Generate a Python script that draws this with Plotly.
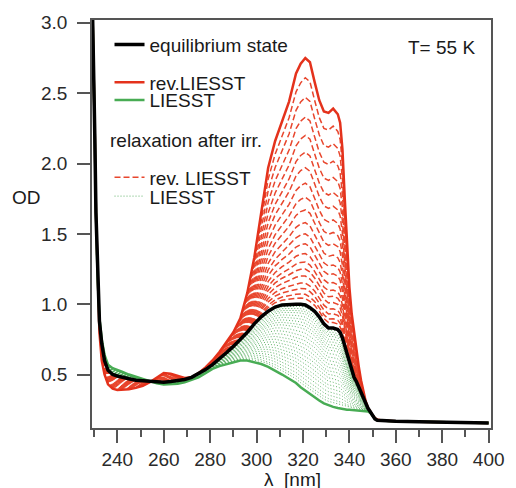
import numpy as np
import plotly.graph_objects as go

# ---------------- data ----------------
wavelength_nm = [
    229.3, 229.8, 230.3, 230.8, 231.5, 232.3, 233.3, 234.5, 236, 238,
    240, 242, 245, 248, 251, 254, 257, 260, 263, 266,
    269, 272, 275, 278, 281, 284, 287, 290, 293, 296,
    299, 302, 305, 308, 311, 314, 317, 319, 321, 323,
    325, 327, 329, 331, 333, 335, 336, 337, 338, 339,
    340, 341, 342, 343, 344, 345, 346, 347, 348, 349,
    350, 351, 352, 354, 357, 360, 370, 380, 390, 400]

od_equilibrium = [
    3.10, 2.75, 2.20, 1.65, 1.20, 0.88, 0.72, 0.60, 0.53, 0.50,
    0.49, 0.48, 0.47, 0.46, 0.455, 0.45, 0.445, 0.445, 0.45, 0.455,
    0.465, 0.48, 0.505, 0.535, 0.57, 0.61, 0.655, 0.70, 0.75, 0.80,
    0.86, 0.91, 0.95, 0.98, 0.995, 1.00, 1.00, 1.00, 0.995, 0.975,
    0.95, 0.91, 0.86, 0.83, 0.83, 0.82, 0.80, 0.76, 0.70, 0.64,
    0.58, 0.53, 0.48, 0.45, 0.41, 0.37, 0.33, 0.29, 0.26, 0.235,
    0.21, 0.185, 0.175, 0.172, 0.17, 0.168, 0.164, 0.16, 0.158, 0.155]

od_rev_liesst = [
    3.10, 2.75, 2.20, 1.65, 1.15, 0.80, 0.60, 0.50, 0.43, 0.40,
    0.39, 0.39, 0.395, 0.405, 0.42, 0.445, 0.48, 0.51, 0.505, 0.49,
    0.475, 0.48, 0.51, 0.55, 0.60, 0.66, 0.73, 0.80, 0.90, 1.08,
    1.33, 1.65, 1.97, 2.16, 2.30, 2.44, 2.64, 2.71, 2.75, 2.72,
    2.58, 2.45, 2.37, 2.36, 2.39, 2.35, 2.29, 2.10, 1.75, 1.40,
    1.12, 0.93, 0.80, 0.68, 0.56, 0.46, 0.38, 0.31, 0.265, 0.235,
    0.21, 0.19, 0.18, 0.174, 0.17, 0.168, 0.164, 0.16, 0.158, 0.155]

od_liesst = [
    3.10, 2.75, 2.20, 1.65, 1.20, 0.90, 0.75, 0.64, 0.57, 0.545,
    0.53, 0.52, 0.50, 0.485, 0.47, 0.452, 0.437, 0.43, 0.43, 0.435,
    0.445, 0.46, 0.48, 0.51, 0.54, 0.56, 0.575, 0.59, 0.60, 0.60,
    0.59, 0.575, 0.555, 0.53, 0.50, 0.47, 0.44, 0.41, 0.385, 0.36,
    0.335, 0.315, 0.295, 0.28, 0.27, 0.262, 0.258, 0.255, 0.252, 0.25,
    0.249, 0.248, 0.247, 0.246, 0.245, 0.244, 0.243, 0.242, 0.238, 0.228,
    0.205, 0.185, 0.176, 0.172, 0.17, 0.168, 0.164, 0.16, 0.158, 0.155]

# Relaxation spectra: each is a mixture of the two end spectra; the amplitude of
# each curve is read from the picture (peak OD at 321 nm / OD at 317 nm).
relax_rev_peak_od = [2.61, 2.47, 2.33, 2.20, 2.08, 1.97, 1.86, 1.76, 1.67, 1.58,
                     1.50, 1.43, 1.36, 1.30, 1.25, 1.20, 1.15, 1.11, 1.07, 1.04]
relax_liesst_od_317 = [0.47, 0.49, 0.515, 0.54, 0.565, 0.59, 0.615, 0.64, 0.665, 0.69,
                       0.715, 0.74, 0.765, 0.79, 0.815, 0.84, 0.86, 0.88, 0.90, 0.92,
                       0.94, 0.955, 0.97, 0.985]

x_ticks = [240, 260, 280, 300, 320, 340, 360, 380, 400]
y_ticks = [0.5, 1.0, 1.5, 2.0, 2.5, 3.0]

# ---------------- figure ----------------
wl = np.array(wavelength_nm)
eq = np.array(od_equilibrium)
rev = np.array(od_rev_liesst)
lie = np.array(od_liesst)
i321 = wavelength_nm.index(321)
i317 = wavelength_nm.index(317)

FONT = "Liberation Sans, Arial, Helvetica, sans-serif"
RED = "rgb(228,50,28)"
RED_D = "rgb(232,70,45)"
GREEN = "rgb(72,172,84)"
GREEN_D = "rgba(70,165,80,0.85)"

fig = go.Figure()

for k, h in enumerate(relax_rev_peak_od):
    f = (h - eq[i321]) / (rev[i321] - eq[i321])
    fig.add_trace(go.Scatter(
        x=wl, y=eq + f * (rev - eq), mode="lines",
        line=dict(color=RED_D, width=1.5, dash="6px,3px"),
        name="rev. LIESST", showlegend=(k == 0), legend="legend4",
        hoverinfo="skip"))

for k, h in enumerate(relax_liesst_od_317):
    f = (h - lie[i317]) / (eq[i317] - lie[i317])
    fig.add_trace(go.Scatter(
        x=wl, y=lie + f * (eq - lie), mode="lines",
        line=dict(color=GREEN_D, width=1, dash="1px,2px"),
        name="LIESST", showlegend=(k == 0), legend="legend5",
        hoverinfo="skip"))

fig.add_trace(go.Scatter(x=wl, y=rev, mode="lines", line=dict(color=RED, width=2.5),
                         name="rev.LIESST", legend="legend2"))
fig.add_trace(go.Scatter(x=wl, y=lie, mode="lines", line=dict(color=GREEN, width=2.5),
                         name="LIESST", legend="legend3"))
fig.add_trace(go.Scatter(x=wl, y=eq, mode="lines", line=dict(color="black", width=3.5),
                         name="equilibrium state", legend="legend", showlegend=True))

W, H = 516, 488
L, R, T, B = 92, 14, 16, 60
pw, ph = W - L - R, H - T - B


def px_x(p):
    return (p - L) / pw


def px_y(p):
    return (H - B - p) / ph


def leg(ypx):
    return dict(x=px_x(110), y=px_y(ypx - 3), xanchor="left", yanchor="middle",
                bgcolor="rgba(0,0,0,0)", borderwidth=0, itemwidth=30,
                font=dict(family=FONT, size=19, color="#1a1a1a"))


axis_common = dict(showline=True, linecolor="#555", linewidth=1.5, mirror=True,
                   ticks="outside", tickcolor="#555", tickwidth=1.5, ticklen=13,
                   showgrid=False, zeroline=False,
                   tickfont=dict(family=FONT, size=19, color="#2a2a2a"))

fig.update_layout(
    width=W, height=H,
    showlegend=True,
    margin=dict(l=L, r=R, t=T, b=B),
    paper_bgcolor="white", plot_bgcolor="white",
    xaxis=dict(range=[229.1, 401.0], tickvals=x_ticks, ticklabelstandoff=0,
               minor=dict(dtick=10, tick0=230, ticks="outside", ticklen=7,
                          tickcolor="#555", tickwidth=1.5),
               **axis_common),
    yaxis=dict(range=[0.12, 3.02], tickvals=y_ticks, tickformat=".1f",
               ticklabelstandoff=6, **axis_common),
    legend=leg(44), legend2=leg(82), legend3=leg(100),
    legend4=leg(178), legend5=leg(197),
    annotations=[
        dict(text="relaxation after irr.", xref="paper", yref="paper",
             x=px_x(108), y=px_y(138), xanchor="left", yanchor="middle",
             showarrow=False, font=dict(family=FONT, size=19, color="#1a1a1a")),
        dict(text="T= 55 K", xref="paper", yref="paper",
             x=px_x(415), y=px_y(44), xanchor="left", yanchor="middle",
             showarrow=False, font=dict(family=FONT, size=19, color="#1a1a1a")),
        dict(text="OD", xref="paper", yref="paper",
             x=px_x(25), y=px_y(195), xanchor="center", yanchor="middle",
             showarrow=False, font=dict(family=FONT, size=19, color="#1a1a1a")),
        dict(text="λ  [nm]", xref="paper", yref="paper",
             x=px_x(298), y=px_y(480), xanchor="center", yanchor="middle",
             showarrow=False, font=dict(family=FONT, size=19, color="#1a1a1a")),
    ],
)

fig.write_html(
    "out.html",
    config={"displayModeBar": False},
    post_script="document.body.style.margin='0';document.body.style.overflow='hidden';",
)
